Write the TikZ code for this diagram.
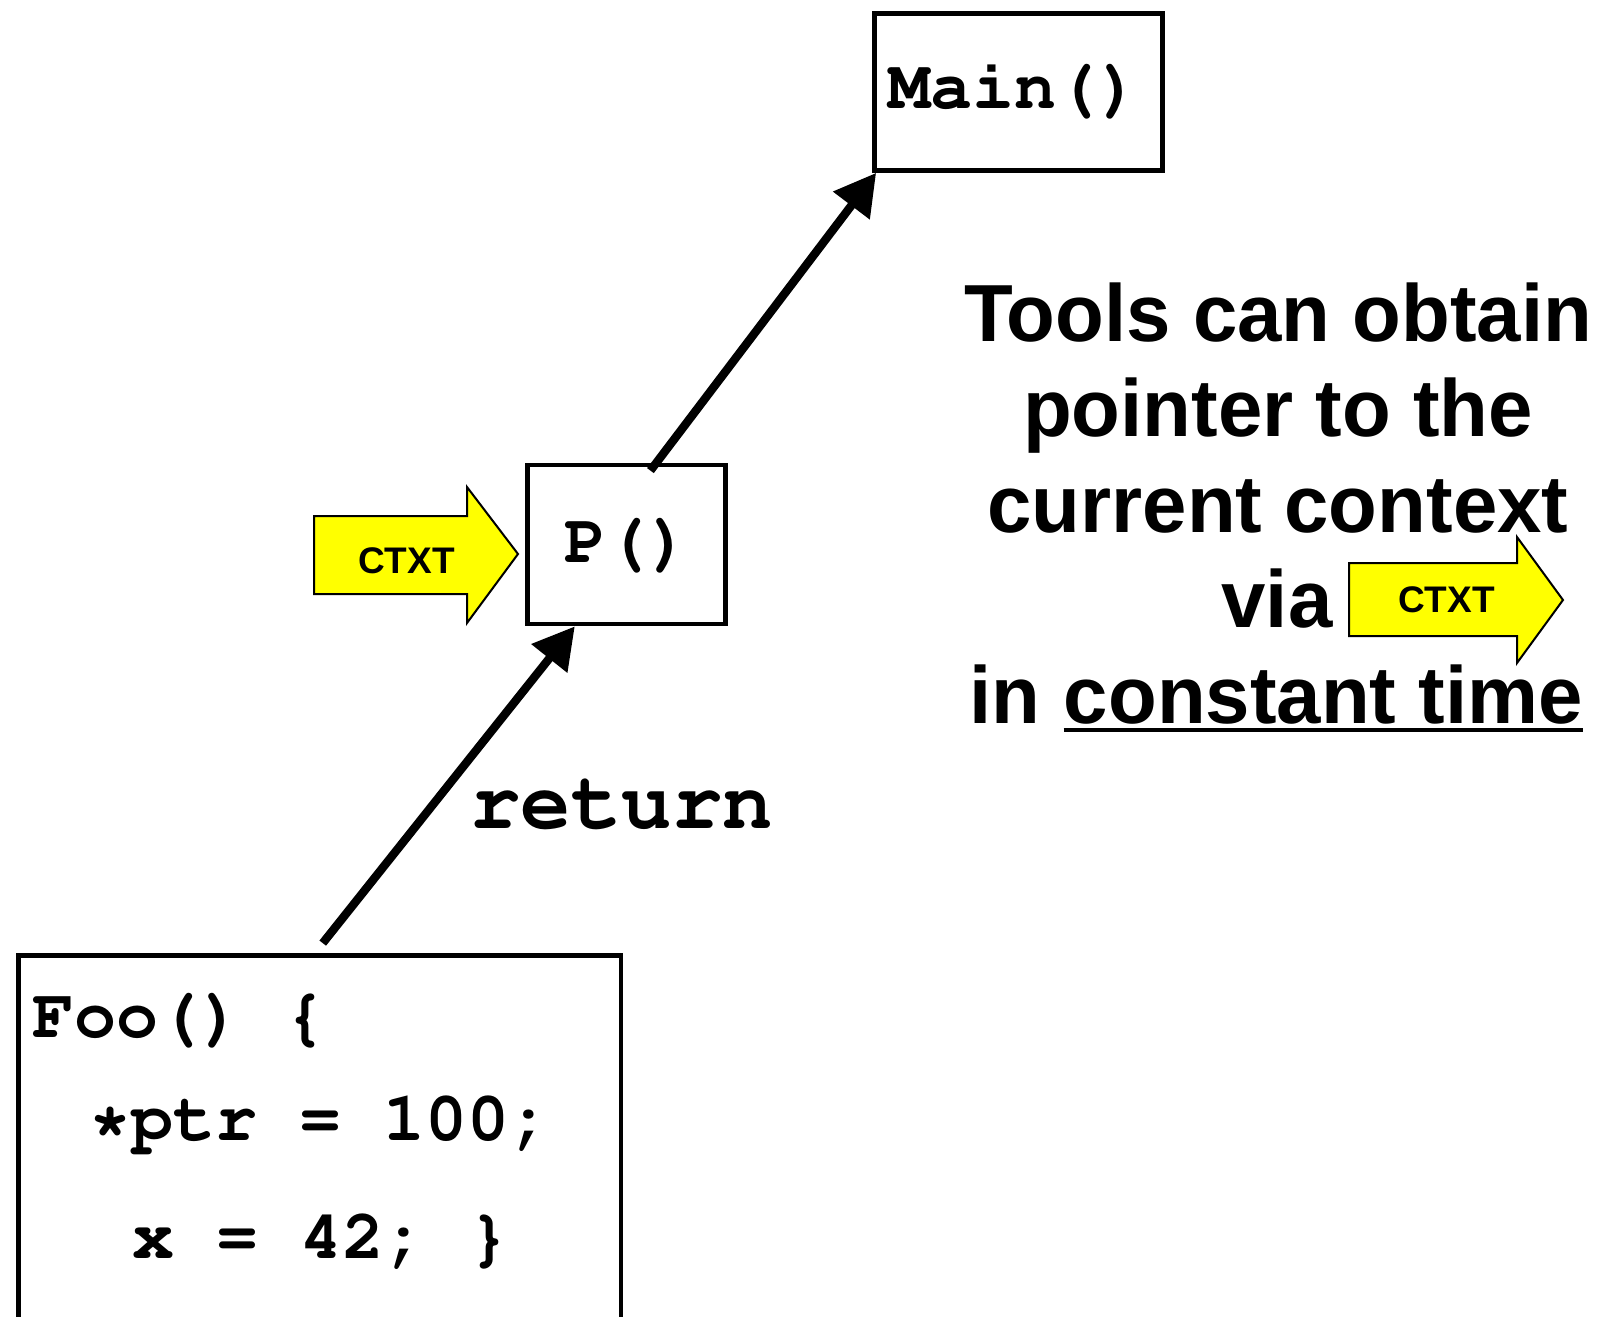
\documentclass[tikz,border=0pt]{standalone}
\usepackage{fontspec}
\usetikzlibrary{arrows.meta,fit,calc}

\newfontfamily\headfont{Liberation Sans}[FakeStretch=0.985]
\newfontfamily\tagfont{Liberation Sans}
\newcommand\cursorbold{\fontencoding{T1}\fontfamily{pcr}\fontseries{b}\fontshape{n}}
\definecolor{tagyellow}{HTML}{FFFF00}

\tikzset{
  frame/.style={draw=black, line width=2.4pt, inner sep=0pt, fill=white},
  code/.style={font={\cursorbold\fontsize{35}{41}\selectfont}, inner sep=0pt, anchor=base west},
  head/.style={font={\headfont\bfseries\fontsize{40.5}{48}\selectfont}, inner sep=0pt, anchor=base},
  tag/.style={font={\tagfont\bfseries\fontsize{18.5}{22}\selectfont}, inner sep=0pt, anchor=base},
  tagarrow/.style={draw=black, line width=1pt, fill=tagyellow, line join=miter},
  conn/.style={line width=4.2pt, -{Triangle[length=20.5pt,width=22pt]}},
}

\begin{document}
\begin{tikzpicture}[x=0.5pt,y=-0.5pt]
\useasboundingbox (0,0) rectangle (1619,1317);

% call frames
\node[frame, fit={(874.5,13.5) (1162.5,170.5)}] (main) {};
\node[frame, fit={(527.5,465) (725.5,624)}] (pbox) {};
\node[frame, fit={(18.5,955.5) (621,1345)}] (foo) {};

\node[code, anchor=base] (mainlbl) at (1014,108) {Main()};
\node[code, anchor=base] (plbl) at (627,562) {P()};

% body of Foo
\node[code] (foo1) at (32,1037) {Foo()\ \{};
\node[code] (foo2) at (89,1140) {*ptr = 100;};
\node[code] (foo3) at (132,1258) {x = 42;\ \}};

% return path up the stack
\coordinate (retfrom) at ($(foo.north)+(3,-10)$);
\coordinate (callfrom) at ($(pbox.north west)!0.618!(pbox.north east)+(0,8)$);
\draw[conn] (retfrom) -- ($(pbox.south west)!0.245!(pbox.south east)$);
\draw[conn] (callfrom) -- ($(main.south west)+(4,0)$);

\node[code, font={\cursorbold\fontsize{42}{48}\selectfont}] (ret) at (470,828) {return};

% context tag entering P()
\draw[tagarrow] (314,516) -- (467,516) -- (467,487) -- (518,554) -- (467,623) -- (467,594) -- (314,594) -- cycle;
\node[tag] (ctxtL) at (406.5,573) {CTXT};

% explanation
\node[head] (t1) at (1278,341) {Tools can obtain};
\node[head] (t2) at (1278,436) {pointer to the};
\node[head] (t3) at (1278,532) {current context};
\node[head] (t4) at (1277,627) {via};
\node[head, anchor=base east] (t5b) at (1583,723) {constant time};
\node[head, anchor=base east] (t5a) at (t5b.base west) {in\hspace*{0.28em}};
\draw[line width=2pt] ($(t5b.base west)+(0,7)$) -- ($(t5b.base east)+(0,7)$);

\draw[tagarrow] (1349,563) -- (1517,563) -- (1517,537) -- (1563,600) -- (1517,663) -- (1517,636) -- (1349,636) -- cycle;
\node[tag] (ctxtR) at (1446.5,612) {CTXT};
\end{tikzpicture}
\end{document}
